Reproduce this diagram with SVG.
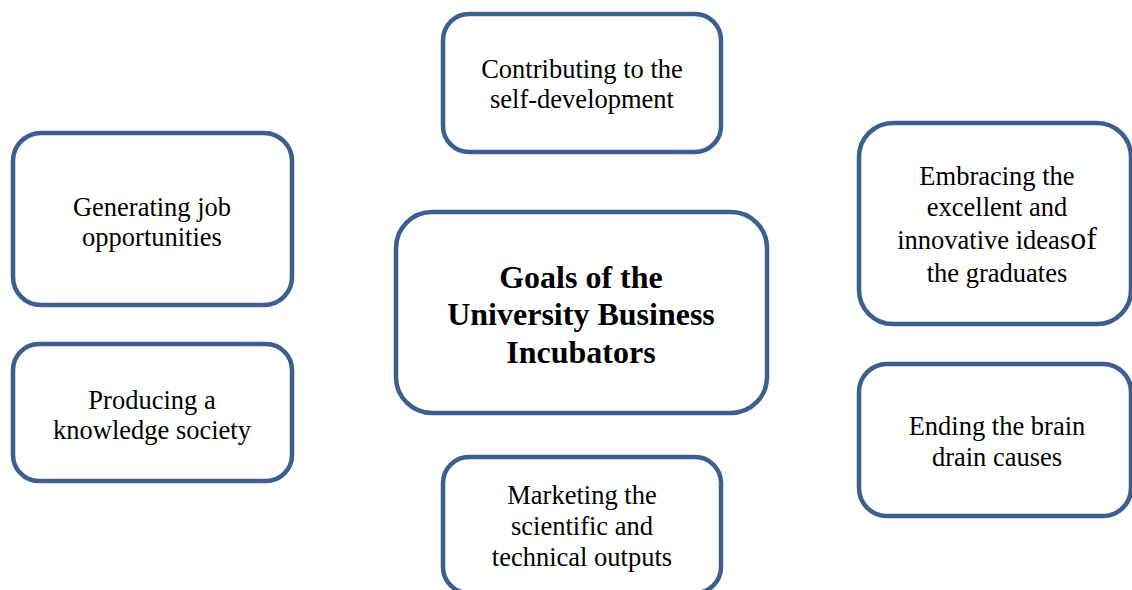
<svg xmlns="http://www.w3.org/2000/svg" width="1132" height="590" viewBox="0 0 1132 590">
<style>
.box{fill:#fff;stroke:#3c5f8d;stroke-width:4.5}
.t{font-family:"Liberation Serif","Times New Roman",serif;font-size:26.5px;fill:#000;text-anchor:middle}
.b{font-family:"Liberation Serif","Times New Roman",serif;font-size:32px;font-weight:bold;fill:#000;text-anchor:middle}
</style>
<rect width="1132" height="590" fill="#fff"/>
<g id="connectors"></g>
<g id="top">
<rect class="box" x="443" y="14" width="278" height="138" rx="26"/>
<text class="t" x="582" y="78">Contributing to the</text>
<text class="t" x="582" y="108">self-development</text>
</g>
<g id="left1">
<rect class="box" x="13" y="133" width="279" height="172" rx="28"/>
<text class="t" x="152" y="216">Generating job</text>
<text class="t" x="152" y="246">opportunities</text>
</g>
<g id="left2">
<rect class="box" x="13" y="344" width="279" height="137" rx="26"/>
<text class="t" x="152" y="409">Producing a</text>
<text class="t" x="152" y="439">knowledge society</text>
</g>
<g id="center">
<rect class="box" x="396" y="212" width="371" height="201" rx="36"/>
<text class="b" x="581" y="288">Goals of the</text>
<text class="b" x="581" y="325">University Business</text>
<text class="b" x="581" y="363">Incubators</text>
</g>
<g id="right1">
<rect class="box" x="859" y="123" width="272" height="201" rx="34"/>
<text class="t" x="997" y="185">Embracing the</text>
<text class="t" x="997" y="216">excellent and</text>
<text class="t" x="997" y="249">innovative ideas<tspan font-size="32px">of</tspan></text>
<text class="t" x="997" y="282">the graduates</text>
</g>
<g id="right2">
<rect class="box" x="859" y="364" width="272" height="152" rx="28"/>
<text class="t" x="997" y="435">Ending the brain</text>
<text class="t" x="997" y="466">drain causes</text>
</g>
<g id="bottom">
<rect class="box" x="443" y="457" width="278" height="136" rx="26"/>
<text class="t" x="582" y="504">Marketing the</text>
<text class="t" x="582" y="535">scientific and</text>
<text class="t" x="582" y="566">technical outputs</text>
</g>
</svg>
